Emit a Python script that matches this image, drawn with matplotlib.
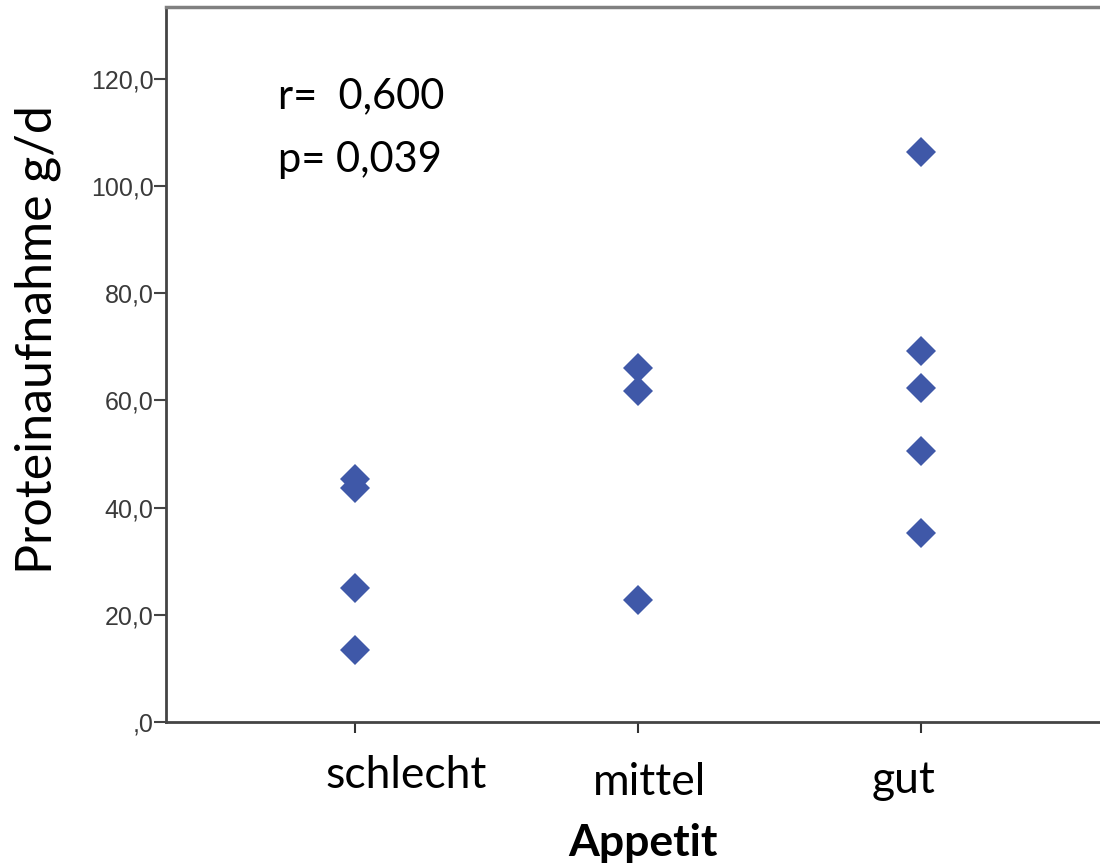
import numpy as np
import matplotlib
matplotlib.use("Agg")
import matplotlib.pyplot as plt
import matplotlib.transforms as mtransforms

# values
categories = ["schlecht", "mittel", "gut"]
schlecht = [45.4, 43.6, 25.0, 13.4]
mittel = [66.1, 61.8, 22.8]
gut = [106.4, 69.2, 62.3, 50.6, 35.3]
groups = [schlecht, mittel, gut]
yticks = [0, 20, 40, 60, 80, 100, 120]
r_text = "r=  0,600"
p_text = "p= 0,039"


def spss_fmt(v):
    s = f"{v:.1f}".replace(".", ",")
    if s.startswith("0,"):
        s = s[1:]
    return s


text_font = ["Lato", "DejaVu Sans"]

fig = plt.figure(figsize=(11, 8.66), dpi=100)
ax = fig.add_axes([166 / 1100, 1 - 722 / 866, 1 - 166 / 1100, 715 / 866])

for i, vals in enumerate(groups):
    ax.plot([i] * len(vals), vals, linestyle="none", marker="D",
            markersize=15, color="#3F58A8", markeredgewidth=0)

ax.set_xlim(-0.668, 2.633)
ax.set_ylim(0, 133.4)

ax.set_yticks(yticks)
ax.set_yticklabels([spss_fmt(v) for v in yticks], family="Liberation Sans",
                   fontsize=18, color="#3a3a3a")
ax.set_xticks(range(len(categories)))
ax.set_xticklabels([])
ax.tick_params(axis="y", length=9, width=1.5, color="#444444", pad=0)
ax.tick_params(axis="x", length=8, width=1.5, color="#333333")

for side in ["left", "bottom"]:
    ax.spines[side].set_color("#444444")
    ax.spines[side].set_linewidth(2)
ax.spines["top"].set_color("#808080")
ax.spines["top"].set_linewidth(2.5)
ax.spines["right"].set_visible(False)

# category labels sit a bit off their ticks, as in the reference
label_dx = [0.18, 0.04, -0.06]
label_y = [-0.092, -0.102, -0.099]
trans = mtransforms.blended_transform_factory(ax.transData, ax.transAxes)
for i, name in enumerate(categories):
    ax.text(i + label_dx[i], label_y[i], name, transform=trans, ha="center",
            va="baseline", fontsize=32, family=text_font, clip_on=False)

ax.text(-0.272, 116.8, r_text, ha="left", va="center", fontsize=30,
        family=text_font)
ax.text(-0.272, 104.8, p_text, ha="left", va="center", fontsize=30,
        family=text_font)

fig.text(643 / 1100, 1 - 856 / 866, "Appetit", ha="center", va="baseline",
         fontsize=32, fontweight="bold", family=text_font)
fig.text(38 / 1100, 1 - 340 / 866, "Proteinaufnahme g/d", rotation=90,
         ha="center", va="center", fontsize=36, family=text_font)

fig.savefig("out.png", dpi=100)
